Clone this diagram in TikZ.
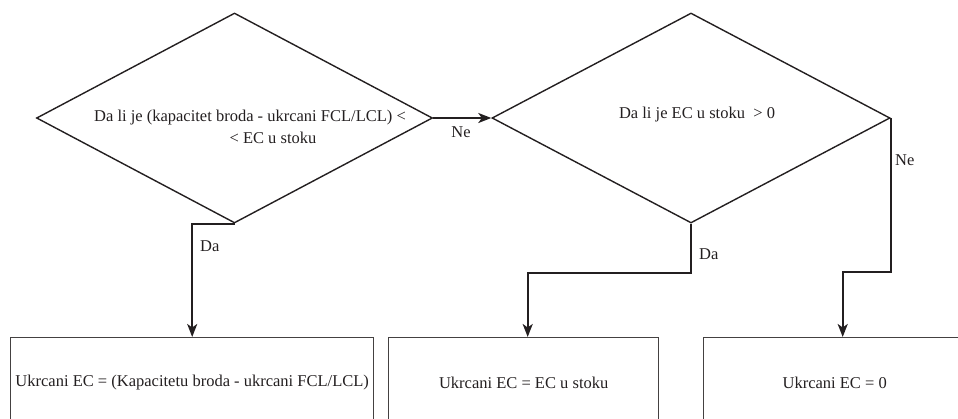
\documentclass[tikz,border=0pt]{standalone}
\usepackage{fontspec}
\setmainfont{Liberation Serif}
\usetikzlibrary{shapes.geometric,arrows.meta,calc}
\definecolor{ink}{RGB}{35,31,32}
\begin{document}
\begin{tikzpicture}[x=1pt,y=-1pt,
  every node/.style={font=\fontsize{16.5}{22}\selectfont, text=ink},
  decision/.style={diamond, draw=ink, line width=1.4pt, inner sep=0pt,
    minimum height=210pt, minimum width=396pt},
  outcome/.style={rectangle, draw=ink!85, line width=1.4pt, inner sep=0pt,
    minimum height=90pt, anchor=north west},
  flow/.style={draw=ink, line width=2pt,
    -{Stealth[length=13pt,width=10pt,inset=3.5pt]}},
  tag/.style={anchor=west, inner sep=0pt}]
\useasboundingbox (0,0) rectangle (958,418);

% decisions
\node[decision] (d1) at (234.5,118) {};
\node[decision, minimum width=398pt] (d2) at (691,118) {};
\node[align=center, inner sep=0pt] (q1) at (250,126.5)
  {Da li je (kapacitet broda - ukrcani FCL/LCL) <\\\hspace*{46pt}< EC u stoku};
\node[inner sep=0pt] (q2) at (697,115) {Da li je EC u stoku~ > 0};

% outcomes
\node[outcome, minimum width=363pt] (b1) at (10,337)
  {Ukrcani EC = (Kapacitetu broda - ukrcani FCL/LCL)};
\node[outcome, minimum width=270pt] (b2) at (388,337) {Ukrcani EC = EC u stoku};
\node[outcome, minimum width=262pt] (b3) at (703,337) {Ukrcani EC = 0};

% connectors
\draw[flow] (d1.east) -- (d2.west);
\draw[flow] (d1.south) -| (b1.north);
\draw[flow] (d2.south) -- ++(0,49) -| ($(b2.north)+(4,0)$);
\draw[flow] (d2.east) -- ++(0,154) -| ($(b3.north)+(8,0)$);

% branch labels
\node (l4) at (461,132) {Ne};
\node[tag] (l1) at (200,246) {Da};
\node[tag] (l2) at (699,254) {Da};
\node[tag] (l3) at (895,160) {Ne};
\end{tikzpicture}
\end{document}
